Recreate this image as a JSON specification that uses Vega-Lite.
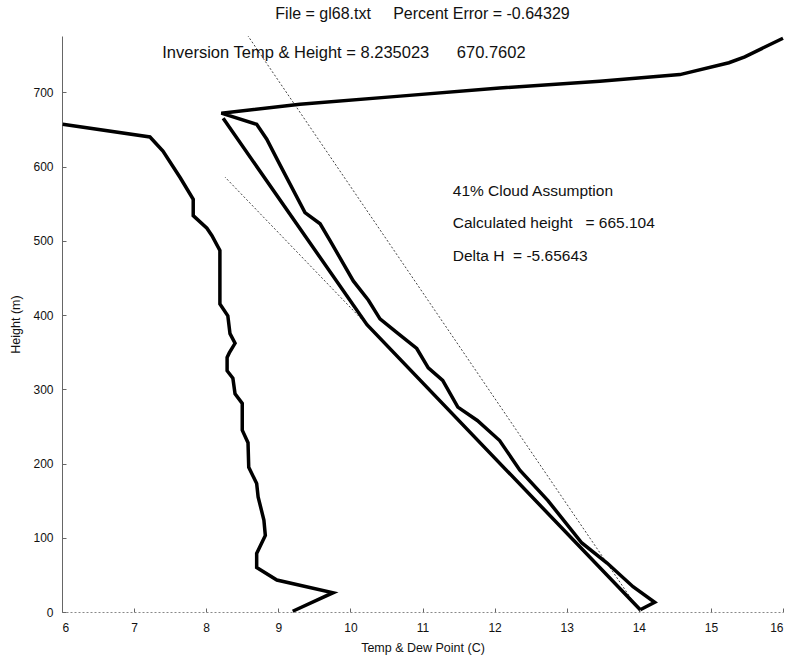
{
  "$schema": "https://vega.github.io/schema/vega-lite/v6.json",
  "width": 721,
  "height": 576,
  "autosize": {"type": "none"},
  "padding": {"left": 62, "top": 36, "right": 10, "bottom": 45},
  "background": "white",
  "config": {
    "view": {"stroke": null},
    "font": "Liberation Sans",
    "axis": {"grid": false, "labelFont": "Liberation Sans", "titleFont": "Liberation Sans", "labelFontSize": 12, "titleFontSize": 12.5, "titleFontWeight": "normal", "labelColor": "#111", "titleColor": "#111"}
  },
  "title": {"text": "File = gl68.txt\u00a0\u00a0\u00a0\u00a0\u00a0Percent Error = -0.64329", "font": "Liberation Sans", "fontSize": 16, "fontWeight": "normal", "color": "#111", "offset": 9, "anchor": "middle"},
  "datasets": {
    "thick": [
      {"s": "dew", "o": 1, "t": 9.20, "h": 1},
      {"s": "dew", "o": 2, "t": 9.76, "h": 26},
      {"s": "dew", "o": 3, "t": 8.98, "h": 43},
      {"s": "dew", "o": 4, "t": 8.70, "h": 60},
      {"s": "dew", "o": 5, "t": 8.70, "h": 79},
      {"s": "dew", "o": 6, "t": 8.82, "h": 103},
      {"s": "dew", "o": 7, "t": 8.80, "h": 124},
      {"s": "dew", "o": 8, "t": 8.72, "h": 155},
      {"s": "dew", "o": 9, "t": 8.70, "h": 173},
      {"s": "dew", "o": 10, "t": 8.59, "h": 195},
      {"s": "dew", "o": 11, "t": 8.58, "h": 228},
      {"s": "dew", "o": 12, "t": 8.50, "h": 245},
      {"s": "dew", "o": 13, "t": 8.50, "h": 281},
      {"s": "dew", "o": 14, "t": 8.40, "h": 294},
      {"s": "dew", "o": 15, "t": 8.37, "h": 315},
      {"s": "dew", "o": 16, "t": 8.29, "h": 325},
      {"s": "dew", "o": 17, "t": 8.29, "h": 343},
      {"s": "dew", "o": 18, "t": 8.32, "h": 349},
      {"s": "dew", "o": 19, "t": 8.40, "h": 362},
      {"s": "dew", "o": 20, "t": 8.33, "h": 375},
      {"s": "dew", "o": 21, "t": 8.30, "h": 399},
      {"s": "dew", "o": 22, "t": 8.19, "h": 415},
      {"s": "dew", "o": 23, "t": 8.19, "h": 487},
      {"s": "dew", "o": 24, "t": 8.08, "h": 507},
      {"s": "dew", "o": 25, "t": 8.01, "h": 517},
      {"s": "dew", "o": 26, "t": 7.82, "h": 534},
      {"s": "dew", "o": 27, "t": 7.82, "h": 556},
      {"s": "dew", "o": 28, "t": 7.64, "h": 585},
      {"s": "dew", "o": 29, "t": 7.40, "h": 621},
      {"s": "dew", "o": 30, "t": 7.22, "h": 640},
      {"s": "dew", "o": 31, "t": 6.01, "h": 657},
      {"s": "temp", "o": 1, "t": 14.02, "h": 3},
      {"s": "temp", "o": 2, "t": 14.22, "h": 13},
      {"s": "temp", "o": 3, "t": 13.92, "h": 34},
      {"s": "temp", "o": 4, "t": 13.56, "h": 66},
      {"s": "temp", "o": 5, "t": 13.21, "h": 93},
      {"s": "temp", "o": 6, "t": 12.74, "h": 150},
      {"s": "temp", "o": 7, "t": 12.35, "h": 191},
      {"s": "temp", "o": 8, "t": 12.07, "h": 231},
      {"s": "temp", "o": 9, "t": 11.76, "h": 258},
      {"s": "temp", "o": 10, "t": 11.49, "h": 276},
      {"s": "temp", "o": 11, "t": 11.28, "h": 312},
      {"s": "temp", "o": 12, "t": 11.08, "h": 329},
      {"s": "temp", "o": 13, "t": 10.92, "h": 355},
      {"s": "temp", "o": 14, "t": 10.65, "h": 376},
      {"s": "temp", "o": 15, "t": 10.41, "h": 395},
      {"s": "temp", "o": 16, "t": 10.25, "h": 420},
      {"s": "temp", "o": 17, "t": 10.04, "h": 446},
      {"s": "temp", "o": 18, "t": 9.72, "h": 500},
      {"s": "temp", "o": 19, "t": 9.58, "h": 523},
      {"s": "temp", "o": 20, "t": 9.37, "h": 538},
      {"s": "temp", "o": 21, "t": 9.02, "h": 603},
      {"s": "temp", "o": 22, "t": 8.84, "h": 637},
      {"s": "temp", "o": 23, "t": 8.70, "h": 657},
      {"s": "temp", "o": 24, "t": 8.21, "h": 672},
      {"s": "temp", "o": 25, "t": 9.30, "h": 684},
      {"s": "temp", "o": 26, "t": 10.69, "h": 695},
      {"s": "temp", "o": 27, "t": 12.07, "h": 706},
      {"s": "temp", "o": 28, "t": 13.46, "h": 715},
      {"s": "temp", "o": 29, "t": 14.57, "h": 724},
      {"s": "temp", "o": 30, "t": 15.25, "h": 740},
      {"s": "temp", "o": 31, "t": 15.47, "h": 748},
      {"s": "temp", "o": 32, "t": 16.0, "h": 773},
      {"s": "adiabat", "o": 1, "t": 14.02, "h": 3},
      {"s": "adiabat", "o": 2, "t": 10.23, "h": 387},
      {"s": "adiabat", "o": 3, "t": 8.235, "h": 665.1}
    ],
    "thin": [
      {"s": "moist", "o": 1, "t": 14.02, "h": 0},
      {"s": "moist", "o": 2, "t": 8.58, "h": 776},
      {"s": "dry", "o": 1, "t": 10.23, "h": 387},
      {"s": "dry", "o": 2, "t": 8.26, "h": 586}
    ],
    "notes": [
      {"label": "Inversion Temp & Height = 8.235023\u00a0\u00a0\u00a0\u00a0\u00a0\u00a0670.7602", "t": 7.39, "h": 753, "fs": 16.5},
      {"label": "41% Cloud Assumption", "t": 11.42, "h": 567, "fs": 15.5},
      {"label": "Calculated height\u00a0\u00a0\u00a0= 665.104", "t": 11.42, "h": 524, "fs": 15.5},
      {"label": "Delta H\u00a0\u00a0= -5.65643", "t": 11.42, "h": 480, "fs": 15.5}
    ]
  },
  "layer": [
    {
      "data": {"name": "thin"},
      "mark": {"type": "line", "color": "#444", "strokeWidth": 1, "strokeDash": [2, 2]},
      "encoding": {
        "x": {"field": "t", "type": "quantitative", "scale": {"domain": [6, 16], "nice": false, "zero": false},
              "axis": {"title": "Temp & Dew Point (C)", "values": [6,7,8,9,10,11,12,13,14,15,16], "format": "d", "tickSize": -4, "tickColor": "#666", "domainColor": "#888", "domainDash": [2, 2], "domainWidth": 1, "labelPadding": 14, "titlePadding": 8}},
        "y": {"field": "h", "type": "quantitative", "scale": {"domain": [0, 776], "nice": false, "zero": false},
              "axis": {"title": "Height (m)", "values": [0,100,200,300,400,500,600,700], "format": "d", "tickSize": -4, "tickColor": "#666", "domainColor": "#666", "domainWidth": 1, "labelPadding": 13, "titlePadding": 10}},
        "detail": {"field": "s"},
        "order": {"field": "o"}
      }
    },
    {
      "data": {"name": "thick"},
      "mark": {"type": "line", "color": "black", "strokeWidth": 3.5, "strokeJoin": "miter"},
      "encoding": {
        "x": {"field": "t", "type": "quantitative"},
        "y": {"field": "h", "type": "quantitative"},
        "detail": {"field": "s"},
        "order": {"field": "o"}
      }
    },
    {
      "data": {"name": "notes"},
      "mark": {"type": "text", "align": "left", "baseline": "middle", "font": "Liberation Sans", "color": "#111"},
      "encoding": {
        "x": {"field": "t", "type": "quantitative"},
        "y": {"field": "h", "type": "quantitative"},
        "text": {"field": "label"},
        "size": {"field": "fs", "type": "quantitative", "scale": null}
      }
    }
  ]
}
